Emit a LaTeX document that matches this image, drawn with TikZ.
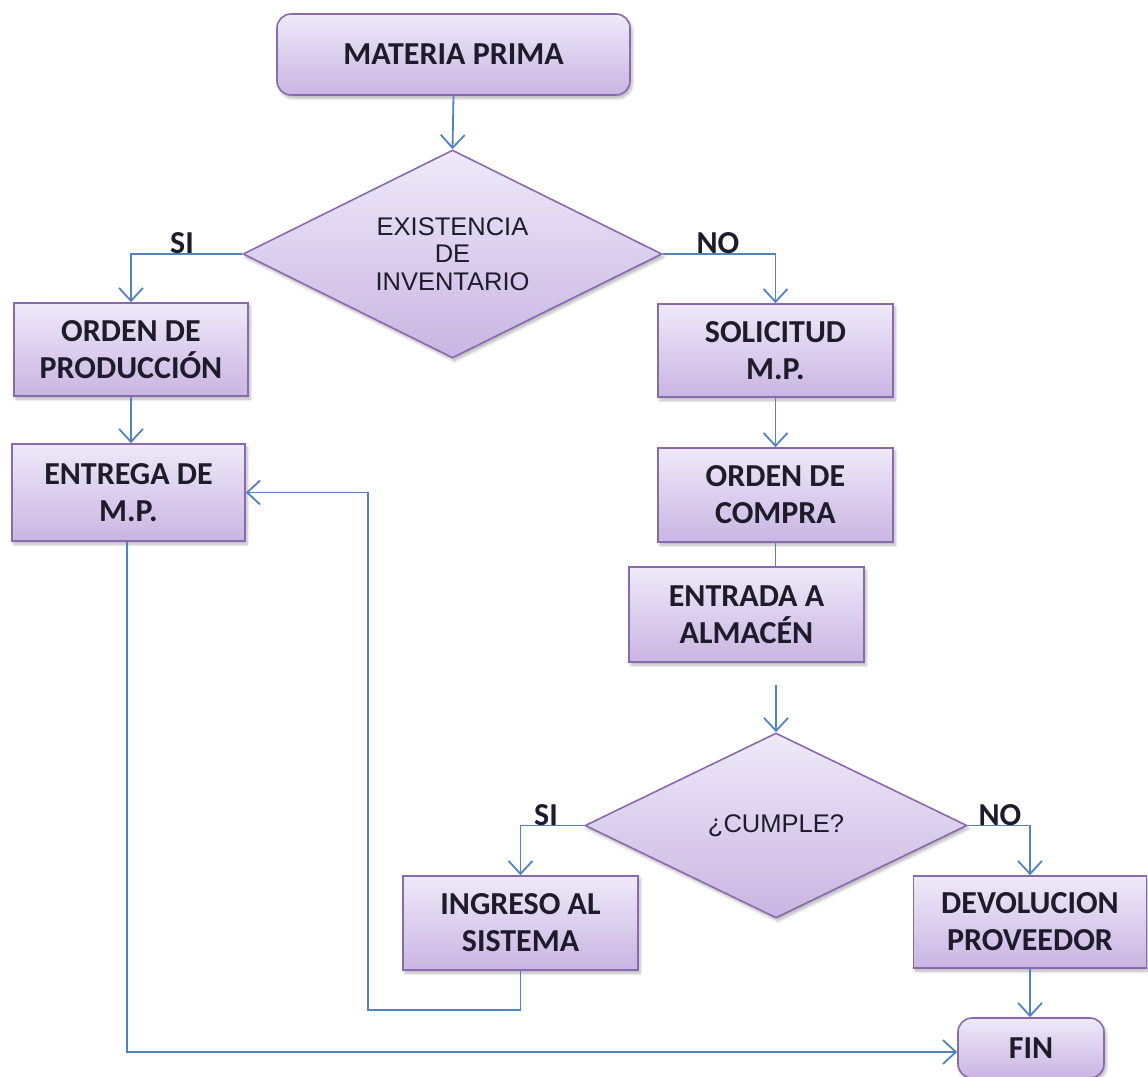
\documentclass[tikz,border=0pt]{standalone}
\usepackage{fontspec}
\setmainfont{Carlito}
\newfontfamily\dfont{Liberation Sans}
\usetikzlibrary{arrows.meta,shapes.geometric,shadows.blur}
\definecolor{boxtop}{HTML}{EFE9F9}
\definecolor{boxbot}{HTML}{C9B5E2}
\definecolor{boxedge}{HTML}{8A6AAF}
\definecolor{flow}{HTML}{5283C0}
\definecolor{ink}{HTML}{1E1B2A}
\tikzset{
  base/.style={draw=boxedge, line width=1.6pt, top color=boxtop, bottom color=boxbot,
    inner sep=0pt, text=ink, align=center,
    blur shadow={shadow xshift=2pt, shadow yshift=-3pt, shadow blur steps=6,
      shadow opacity=30, shadow blur radius=3pt}},
  proc/.style={base, rectangle, font=\bfseries\fontsize{32}{37}\selectfont},
  term/.style={proc, rounded corners=14pt},
  decis/.style={base, diamond, shape aspect=2, font=\dfont\fontsize{25.5}{27.5}\selectfont},
  flowline/.style={draw=flow, line width=1.8pt},
  flowarrow/.style={flowline, -{Straight Barb[length=13pt, width=24pt]}},
  lbl/.style={text=ink, font=\bfseries\fontsize{32}{36}\selectfont, inner sep=0pt}
}
\begin{document}
\begin{tikzpicture}[x=1pt, y=-1pt]
\useasboundingbox (0,0) rectangle (1148,1076);

% steps and decisions
\node[term, minimum width=353pt, minimum height=81pt] (mp) at (453.5,54.5) {MATERIA PRIMA};
\node[decis, minimum width=419pt, minimum height=208pt] (inv) at (452.5,254) {EXISTENCIA\\DE\\INVENTARIO};
\node[proc, minimum width=234pt, minimum height=93pt] (op) at (131,349.5) {ORDEN DE\\PRODUCCIÓN};
\node[proc, minimum width=233pt, minimum height=97pt] (ent) at (128.5,492.5) {ENTREGA DE\\M.P.};
\node[proc, minimum width=235pt, minimum height=93pt] (sol) at (775.5,350.5) {SOLICITUD\\M.P.};
\node[proc, minimum width=235pt, minimum height=94pt] (oc) at (775.5,495) {ORDEN DE\\COMPRA};
\node[proc, minimum width=235pt, minimum height=95pt] (alm) at (746.5,614.5) {ENTRADA A\\ALMACÉN};
\node[decis, minimum width=382pt, minimum height=185pt] (cum) at (776,825.5) {¿CUMPLE?};
\node[proc, minimum width=235pt, minimum height=94pt] (ing) at (520.5,923) {INGRESO AL\\SISTEMA};
\node[proc, minimum width=233pt, minimum height=92pt] (dev) at (1030,922) {DEVOLUCION\\PROVEEDOR};
\node[term, minimum width=146pt, minimum height=60pt] (fin) at (1031,1048) {FIN};

% connectors
\draw[flowarrow] (mp.south) -- (inv.north);
\draw[flowarrow] (inv.west) -| (op.north);
\draw[flowarrow] (op.south) -- (op.south |- ent.north);
\draw[flowarrow] (inv.east) -| (sol.north);
\draw[flowarrow] (sol.south) -- (oc.north);
\draw[flowline] (oc.south) -- (oc.south |- alm.north);
\coordinate (drop) at (776,685);
\draw[flowarrow] (drop) -- (cum.north);
\draw[flowarrow] (cum.west) -| (ing.north);
\draw[flowarrow] (cum.east) -| (dev.north);
\draw[flowarrow] (dev.south) -- (dev.south |- fin.north);
\coordinate (back) at (368,1010);
\draw[flowarrow] (ing.south) |- (back) |- (ent.east);
\coordinate (low) at (127,1052);
\draw[flowarrow] (ent.south -| low) -- (low) -- (low -| fin.west);

% branch labels
\node[lbl] (si1) at (182,243) {SI};
\node[lbl] (no1) at (718,243) {NO};
\node[lbl] (si2) at (546,815) {SI};
\node[lbl] (no2) at (1000,815) {NO};
\end{tikzpicture}
\end{document}
